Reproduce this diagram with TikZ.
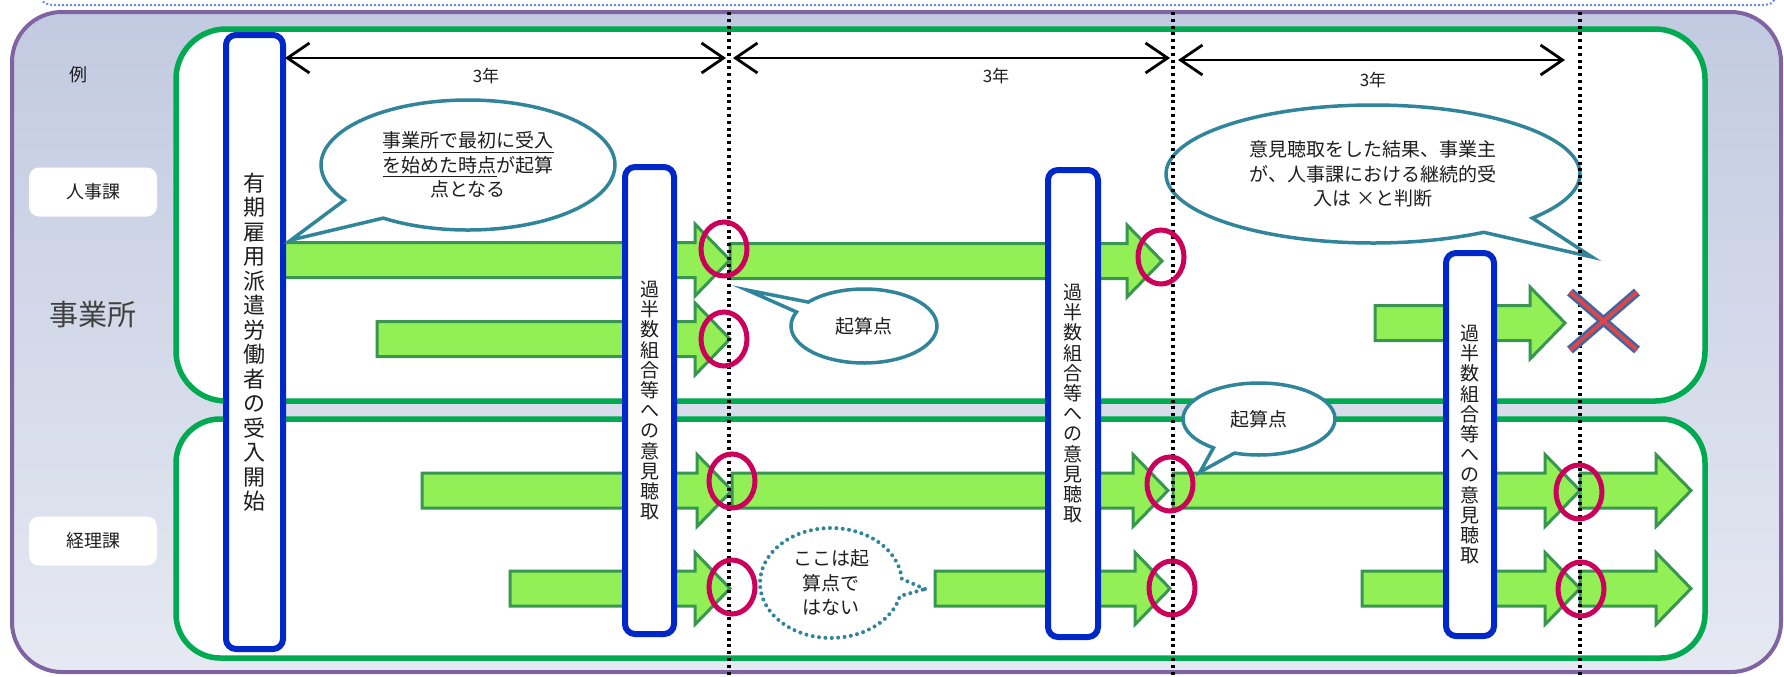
\documentclass[tikz,border=0pt]{standalone}
\usepackage{fontspec}
\setmainfont{Noto Sans CJK JP}
\usetikzlibrary{shapes.geometric,shapes.callouts,arrows.meta}
\definecolor{gfr}{RGB}{0,170,80}
\definecolor{pfr}{RGB}{128,100,162}
\definecolor{bfr}{RGB}{0,40,200}
\definecolor{afill}{RGB}{146,240,86}
\definecolor{aline}{RGB}{56,150,80}
\definecolor{rcirc}{RGB}{204,0,90}
\definecolor{tealb}{RGB}{49,133,155}
\definecolor{xblue}{RGB}{70,100,160}
\definecolor{xred}{RGB}{225,70,70}
\definecolor{topc}{RGB}{194,202,225}
\definecolor{botc}{RGB}{230,233,242}
\definecolor{ink}{RGB}{30,30,30}
\definecolor{topdotc}{RGB}{110,140,230}
\newcommand\garr[3]{%
  \draw[garrow] (#1,#3-17.5) -- (#2-35,#3-17.5) -- (#2-35,#3-36) -- (#2,#3) -- (#2-35,#3+36) -- (#2-35,#3+17.5) -- (#1,#3+17.5) -- cycle;}
\tikzset{
  garrow/.style={fill=afill, draw=aline, line width=1.5pt, line join=miter},
  bbox/.style={draw=bfr, fill=white, line width=3pt, rounded corners=5pt, inner sep=0pt, align=center, text=ink},
  gframe/.style={draw=gfr, fill=white, line width=2.75pt},
  rcircle/.style={ellipse, draw=rcirc, line width=2.5pt, minimum width=23pt, minimum height=27pt, inner sep=0pt},
  bubble/.style={ellipse callout, draw=tealb, fill=white, line width=1.75pt, inner sep=0pt, align=center, text=ink, callout pointer arc=18, font=\fontsize{9.5pt}{12.25pt}\selectfont},
  vline/.style={black, line width=2pt, dash pattern=on 1.5pt off 1.9pt},
  dimarrow/.style={{Straight Barb[length=11pt,width=15pt]}-{Straight Barb[length=11pt,width=15pt]}, line width=1.4pt, black},
  lbl/.style={fill=white, rounded corners=5pt, minimum width=64pt, minimum height=24.5pt, text=ink, font=\fontsize{9pt}{10pt}\selectfont},
  yr/.style={text=ink, font=\fontsize{8.5pt}{10pt}\selectfont},
  vtext1/.style={font=\fontsize{11pt}{12.25pt}\selectfont},
  vtext2/.style={font=\fontsize{9.5pt}{10.1pt}\selectfont}
}
\begin{document}
\begin{tikzpicture}[x=0.5pt,y=-0.5pt]
\useasboundingbox (0,0) rectangle (1784,676);
% top dotted border (cut off)
\draw[topdotc, line width=1pt, dash pattern=on 1pt off 1pt] (40,-10) .. controls (40,2) and (44,5) .. (56,5) -- (1762,5) .. controls (1772,5) and (1776,2) .. (1776,-10);
% outer frame
\draw[draw=pfr, line width=2pt, top color=topc, bottom color=botc, rounded corners=25pt] (12,12) rectangle (1781,672);
% left labels
\node[text=ink, font=\fontsize{9pt}{10pt}\selectfont] (rei) at (78,75) {例};
\node[lbl] (jinji) at (93,192) {人事課};
\node[text=black!75, font=\fontsize{14.5pt}{16pt}\selectfont] (jigyo) at (93,314) {事業所};
\node[lbl] (keiri) at (93,541) {経理課};
% green frames
\draw[gframe, rounded corners=25pt] (176,29) rectangle (1705,401);
\draw[gframe, rounded corners=22pt] (176,419) rectangle (1705,658);
% green arrows
\garr{280}{730}{260}
\garr{730}{1162}{261}
\garr{377}{730}{339}
\garr{1375}{1565}{323}
\garr{422}{732}{490.5}
\garr{732}{1168}{490.5}
\garr{1173}{1580}{490.5}
\garr{1580}{1691}{490.5}
\garr{510}{730}{588.5}
\garr{935}{1170}{588.5}
\garr{1362}{1580}{588.5}
\garr{1580}{1691}{588.5}
% blue boxes
\node[bbox, vtext1, minimum width=28.5pt, minimum height=307pt] (b1) at (254.5,342) {有\\期\\雇\\用\\派\\遣\\労\\働\\者\\の\\受\\入\\開\\始};
\node[bbox, vtext2, minimum width=24.5pt, minimum height=233.5pt] (b2) at (649.5,400.5) {過\\半\\数\\組\\合\\等\\へ\\の\\意\\見\\聴\\取};
\node[bbox, vtext2, minimum width=25pt, minimum height=233.5pt] (b3) at (1073,403.5) {過\\半\\数\\組\\合\\等\\へ\\の\\意\\見\\聴\\取};
\node[bbox, vtext2, minimum width=24pt, minimum height=191.5pt] (b4) at (1470,444.5) {過\\半\\数\\組\\合\\等\\へ\\の\\意\\見\\聴\\取};
% callouts
\node[bubble, minimum width=147pt, minimum height=65pt, callout absolute pointer={(291,240)}, callout pointer arc=22] (c1) at (468,165) {\underline{事業所で最初に受入}\\\underline{を始めた時点}が起算\\点となる};
\node[bubble, minimum width=73pt, minimum height=37pt, callout absolute pointer={(747,290)}] (c2) at (864,326) {起算点};
\node[bubble, minimum width=207pt, minimum height=69pt, callout absolute pointer={(1592,257)}] (c3) at (1373,174) {意見聴取をした結果、事業主\\が、人事課における継続的受\\入は ×と判断};
\node[bubble, minimum width=76pt, minimum height=36pt, callout absolute pointer={(1200,472)}] (c4) at (1259,419) {起算点};
\node[bubble, dash pattern=on 0pt off 3.2pt, line cap=round, line width=2pt, minimum width=71pt, minimum height=55pt, callout absolute pointer={(925,589)}] (c5) at (831,583) {ここは起\\算点で\\はない};
% dotted vertical lines
\coordinate (v1t) at (729,12); \coordinate (v1b) at (729,676);
\coordinate (v2t) at (1173,12); \coordinate (v2b) at (1173,676);
\coordinate (v3t) at (1580,12); \coordinate (v3b) at (1580,676);
\draw[vline] (v1t) -- (v1b);
\draw[vline] (v2t) -- (v2b);
\draw[vline] (v3t) -- (v3b);
% red circles
\node[rcircle] (r1) at (724,249) {};
\node[rcircle] (r2) at (1161,257) {};
\node[rcircle] (r3) at (724,339) {};
\node[rcircle] (r4) at (732,481) {};
\node[rcircle] (r5) at (732,587) {};
\node[rcircle] (r6) at (1170,484) {};
\node[rcircle] (r7) at (1172,588) {};
\node[rcircle] (r8) at (1579,492) {};
\node[rcircle] (r9) at (1581,589) {};
% X mark
\coordinate (xa) at (1570,292); \coordinate (xb) at (1637,350);
\coordinate (xc) at (1570,350); \coordinate (xd) at (1637,292);
\draw[xblue, line width=4.5pt] (xa) -- (xb) (xc) -- (xd);
\draw[xred, line width=1.8pt] (xa) -- (xb) (xc) -- (xd);
% dimension arrows
\coordinate (d1s) at (285,58); \coordinate (d1e) at (726,58);
\coordinate (d2s) at (733,58); \coordinate (d2e) at (1170,58);
\coordinate (d3s) at (1178,60); \coordinate (d3e) at (1565,60);
\draw[dimarrow] (d1s) -- (d1e);
\draw[dimarrow] (d2s) -- (d2e);
\draw[dimarrow] (d3s) -- (d3e);
\node[yr] (y1) at (486,76) {3年};
\node[yr] (y2) at (996,76) {3年};
\node[yr] (y3) at (1373,80) {3年};
\end{tikzpicture}
\end{document}
